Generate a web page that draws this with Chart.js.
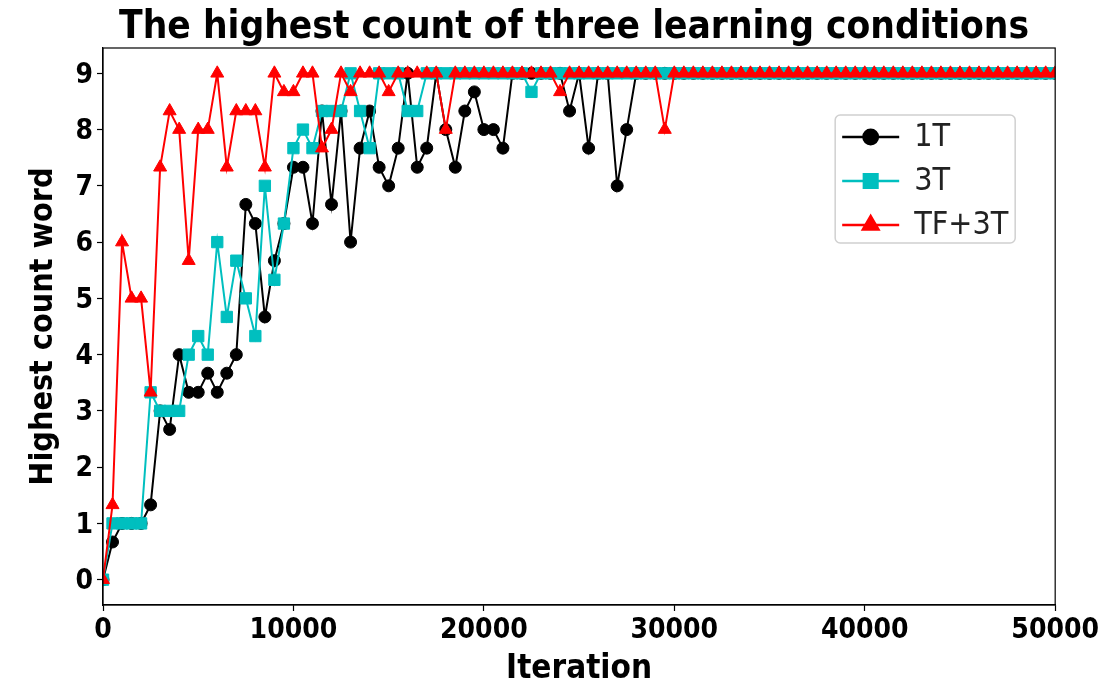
<!DOCTYPE html>
<html>
<head>
<meta charset="utf-8">
<script src="https://cdn.jsdelivr.net/npm/chart.js@4/dist/chart.umd.min.js"></script>
<style>
  html, body { margin: 0; padding: 0; background: #fff; overflow: hidden; }
  #chart { display: block; }
</style>
</head>
<body>
<canvas id="chart" width="1102" height="686"></canvas>
<script>
// Iteration at which each sample was taken
const iterations = [
  0, 500, 1000, 1500, 2000, 2500, 3000, 3500, 4000, 4500,
  5000, 5500, 6000, 6500, 7000, 7500, 8000, 8500, 9000, 9500,
  10000, 10500, 11000, 11500, 12000, 12500, 13000, 13500, 14000, 14500,
  15000, 15500, 16000, 16500, 17000, 17500, 18000, 18500, 19000, 19500,
  20000, 20500, 21000, 21500, 22000, 22500, 23000, 23500, 24000, 24500,
  25000, 25500, 26000, 26500, 27000, 27500, 28000, 28500, 29000, 29500,
  30000, 30500, 31000, 31500, 32000, 32500, 33000, 33500, 34000, 34500,
  35000, 35500, 36000, 36500, 37000, 37500, 38000, 38500, 39000, 39500,
  40000, 40500, 41000, 41500, 42000, 42500, 43000, 43500, 44000, 44500,
  45000, 45500, 46000, 46500, 47000, 47500, 48000, 48500, 49000, 49500,
  50000
];

// Highest count word, averaged over runs, per condition
const oneT = [
  0, 0.67, 1, 1, 1, 1.33, 3, 2.67, 4, 3.33,
  3.33, 3.67, 3.33, 3.67, 4, 6.67, 6.33, 4.67, 5.67, 6.33,
  7.33, 7.33, 6.33, 8.33, 6.67, 8.33, 6, 7.67, 8.33, 7.33,
  7, 7.67, 9, 7.33, 7.67, 9, 8, 7.33, 8.33, 8.67,
  8, 8, 7.67, 9, 9, 9, 9, 9, 9, 8.33,
  9, 7.67, 9, 9, 7, 8, 9, 9, 9, 9,
  9, 9, 9, 9, 9, 9, 9, 9, 9, 9,
  9, 9, 9, 9, 9, 9, 9, 9, 9, 9,
  9, 9, 9, 9, 9, 9, 9, 9, 9, 9,
  9, 9, 9, 9, 9, 9, 9, 9, 9, 9,
  9
];
const threeT = [
  0, 1, 1, 1, 1, 3.33, 3, 3, 3, 4,
  4.33, 4, 6, 4.67, 5.67, 5, 4.33, 7, 5.33, 6.33,
  7.67, 8, 7.67, 8.33, 8.33, 8.33, 9, 8.33, 7.67, 9,
  9, 9, 8.33, 8.33, 9, 9, 9, 9, 9, 9,
  9, 9, 9, 9, 9, 8.67, 9, 9, 9, 9,
  9, 9, 9, 9, 9, 9, 9, 9, 9, 9,
  9, 9, 9, 9, 9, 9, 9, 9, 9, 9,
  9, 9, 9, 9, 9, 9, 9, 9, 9, 9,
  9, 9, 9, 9, 9, 9, 9, 9, 9, 9,
  9, 9, 9, 9, 9, 9, 9, 9, 9, 9,
  9
];
const tfThreeT = [
  0, 1.33, 6, 5, 5, 3.33, 7.33, 8.33, 8, 5.67,
  8, 8, 9, 7.33, 8.33, 8.33, 8.33, 7.33, 9, 8.67,
  8.67, 9, 9, 7.67, 8, 9, 8.67, 9, 9, 9,
  8.67, 9, 9, 9, 9, 9, 8, 9, 9, 9,
  9, 9, 9, 9, 9, 9, 9, 9, 8.67, 9,
  9, 9, 9, 9, 9, 9, 9, 9, 9, 8,
  9, 9, 9, 9, 9, 9, 9, 9, 9, 9,
  9, 9, 9, 9, 9, 9, 9, 9, 9, 9,
  9, 9, 9, 9, 9, 9, 9, 9, 9, 9,
  9, 9, 9, 9, 9, 9, 9, 9, 9, 9,
  9
];

const seriesNames = ['1T', '3T', 'TF+3T'];
const xTicks = [0, 10000, 20000, 30000, 40000, 50000];
const yTicks = [0, 1, 2, 3, 4, 5, 6, 7, 8, 9];

const titleText = 'The highest count of three learning conditions';
const xTitle = 'Iteration';
const yTitle = 'Highest count word';

const FAMILY = "'DejaVu Sans Condensed', 'DejaVu Sans', sans-serif";

function points(values) {
  return iterations.map((it, i) => ({ x: it, y: values[i] }));
}

// Heading centred over the plotting area, plus the box around it
const framePlugin = {
  id: 'frameAndHeading',
  afterDraw(chart) {
    const { ctx, chartArea: a } = chart;
    ctx.save();
    ctx.strokeStyle = '#000';
    ctx.lineWidth = 1.2;
    ctx.strokeRect(a.left, a.top, a.right - a.left, a.bottom - a.top);
    ctx.fillStyle = '#000';
    ctx.font = 'bold 38.5px ' + FAMILY;
    ctx.textAlign = 'center';
    ctx.textBaseline = 'alphabetic';
    ctx.fillText(titleText, (a.left + a.right) / 2 - 5, 38);
    ctx.restore();
  }
};

// Legend box in the upper right of the plot: line sample with marker, then name
const legendPlugin = {
  id: 'insetLegend',
  afterDraw(chart) {
    const { ctx, chartArea: a } = chart;
    const w = 180, h = 128;
    const x0 = a.right - 40 - w;
    const y0 = a.top + 67;
    const markerScale = 1.2;
    ctx.save();
    ctx.beginPath();
    ctx.roundRect(x0, y0, w, h, 5);
    ctx.fillStyle = 'rgba(255,255,255,0.85)';
    ctx.fill();
    ctx.strokeStyle = '#d0d0d0';
    ctx.lineWidth = 1.5;
    ctx.stroke();
    chart.data.datasets.forEach((ds, i) => {
      const y = y0 + 22 + i * 44;
      ctx.strokeStyle = ds.borderColor;
      ctx.lineWidth = ds.borderWidth + 0.5;
      ctx.beginPath();
      ctx.moveTo(x0 + 7, y);
      ctx.lineTo(x0 + 64, y);
      ctx.stroke();
      ctx.fillStyle = ds.pointBackgroundColor;
      ctx.strokeStyle = ds.pointBorderColor;
      Chart.helpers.drawPoint(ctx, {
        pointStyle: ds.pointStyle, radius: ds.pointRadius * markerScale, rotation: 0, borderWidth: 1
      }, x0 + 35.5, y);
      ctx.fillStyle = '#222';
      ctx.font = '32px ' + FAMILY;
      ctx.textAlign = 'left';
      ctx.textBaseline = 'middle';
      ctx.fillText(ds.label, x0 + 79, y + 1);
    });
    ctx.restore();
  }
};

function lineSet(label, values, color, style, radius, order) {
  return {
    label,
    data: points(values),
    borderColor: color,
    backgroundColor: color,
    pointBackgroundColor: color,
    pointBorderColor: color,
    pointBorderWidth: 1,
    borderWidth: 2,
    pointStyle: style,
    pointRadius: radius,
    pointHoverRadius: radius,
    tension: 0,
    fill: false,
    order
  };
}

new Chart(document.getElementById('chart'), {
  type: 'line',
  data: {
    datasets: [
      lineSet(seriesNames[0], oneT, '#000000', 'circle', 6, 3),
      lineSet(seriesNames[1], threeT, '#00bfbf', 'rect', 8, 2),
      lineSet(seriesNames[2], tfThreeT, '#ff0000', 'triangle', 7.5, 1)
    ]
  },
  options: {
    responsive: false,
    animation: false,
    devicePixelRatio: 1,
    layout: { padding: { left: 0, right: 46, top: 48, bottom: 0 } },
    plugins: {
      legend: { display: false },
      tooltip: { enabled: false },
      title: { display: false }
    },
    scales: {
      x: {
        type: 'linear',
        min: 0,
        max: 50000,
        afterBuildTicks: s => { s.ticks = xTicks.map(v => ({ value: v })); },
        afterFit: s => { s.height = 81; },
        ticks: {
          autoSkip: false,
          maxRotation: 0,
          padding: 3,
          color: '#000',
          font: { family: FAMILY, size: 28, weight: 'bold' },
          callback: v => String(v)
        },
        grid: { drawOnChartArea: false, drawTicks: true, tickLength: 6, color: '#000', tickWidth: 1.2 },
        border: { display: true, color: '#000', width: 1.2 },
        title: {
          display: true, text: xTitle, color: '#000',
          font: { family: FAMILY, size: 33, weight: 'bold' },
          padding: { top: 0, bottom: -3 }
        }
      },
      y: {
        type: 'linear',
        min: -0.45,
        max: 9.45,
        afterBuildTicks: s => { s.ticks = yTicks.map(v => ({ value: v })); },
        afterFit: s => { s.width = 103; },
        ticks: {
          padding: 4,
          labelOffset: 2,
          color: '#000',
          font: { family: FAMILY, size: 28, weight: 'bold' },
          callback: v => String(v)
        },
        grid: { drawOnChartArea: false, drawTicks: true, tickLength: 6, color: '#000', tickWidth: 1.2 },
        border: { display: true, color: '#000', width: 1.2 },
        title: {
          display: true, text: yTitle, color: '#000',
          font: { family: FAMILY, size: 32, weight: 'bold' },
          padding: { top: 24, bottom: 0 }
        }
      }
    }
  },
  plugins: [framePlugin, legendPlugin]
});
</script>
</body>
</html>
